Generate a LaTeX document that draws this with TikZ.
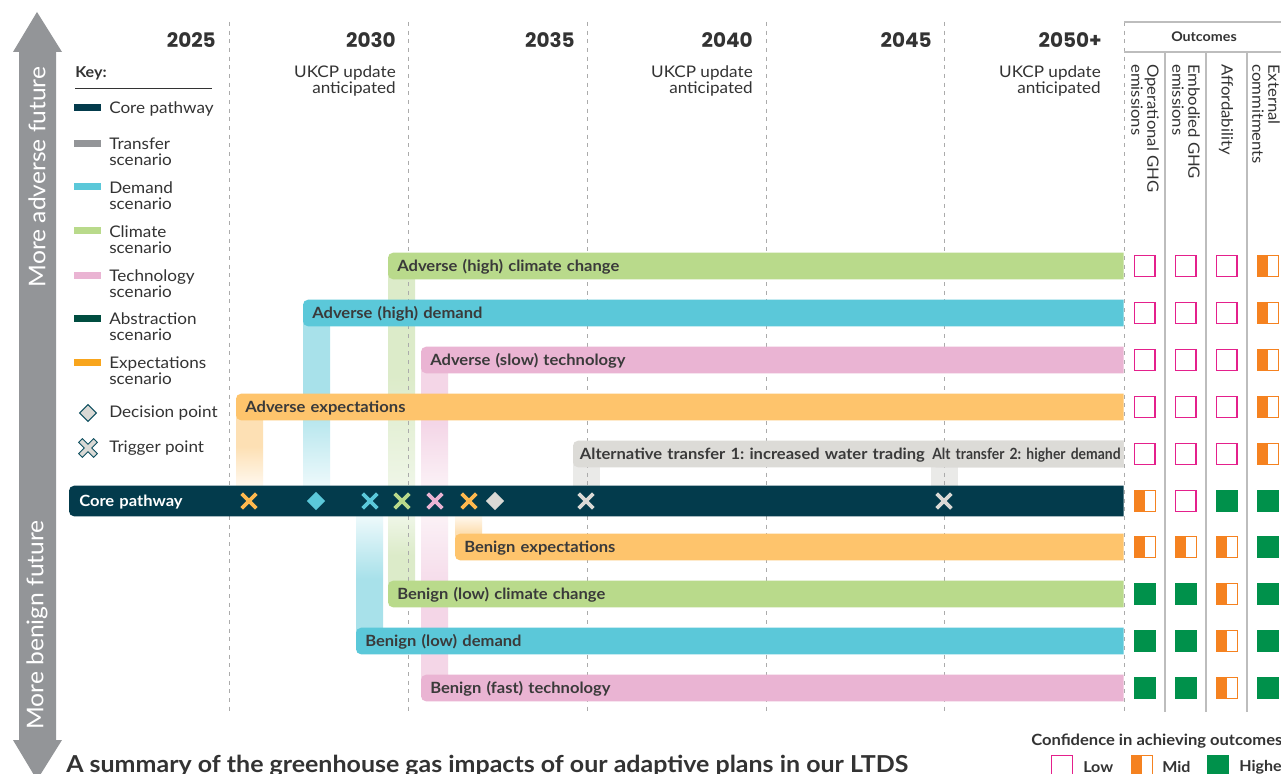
\documentclass[tikz,border=0pt]{standalone}
\usepackage{fontspec}
\setmainfont{Lato}[FakeStretch=1.07]
\newfontfamily\yearfont{Poppins}
\newfontfamily\condfont{Lato}[FakeStretch=0.9]
\usetikzlibrary{shapes.geometric,shapes.misc}
\definecolor{coreblue}{HTML}{033B4C}
\definecolor{trgray}{HTML}{DCDBD7}
\definecolor{keygray}{HTML}{939598}
\definecolor{demc}{HTML}{5BC8D9}
\definecolor{climc}{HTML}{B9DA8B}
\definecolor{techc}{HTML}{EAB4D3}
\definecolor{expc}{HTML}{FEC46C}
\definecolor{expkey}{HTML}{F8A51D}
\definecolor{absc}{HTML}{004D40}
\definecolor{txt}{HTML}{333333}
\definecolor{lbl}{HTML}{3A3A3A}
\definecolor{gridc}{HTML}{ABABAB}
\definecolor{lowc}{HTML}{E4208C}
\definecolor{midc}{HTML}{F58220}
\definecolor{highc}{HTML}{00914B}
\definecolor{arrowc}{HTML}{939598}
\definecolor{xorange}{HTML}{FDB84E}
\definecolor{markgray}{HTML}{DAD9D5}
\definecolor{keyteal}{HTML}{0E4F5F}
\definecolor{sepc}{HTML}{BDBDBD}
\definecolor{expL}{HTML}{FDE0B4}
\definecolor{expF}{HTML}{FFF8EE}
\definecolor{demL}{HTML}{A8E1EA}
\definecolor{demF}{HTML}{EDF9FB}
\definecolor{climL}{HTML}{DCEBC9}
\definecolor{climF}{HTML}{EFF6E7}
\definecolor{techL}{HTML}{F4D6E7}
\definecolor{techF}{HTML}{FBF1F6}
\definecolor{trL}{HTML}{EAEAE8}
\pgfdeclarelayer{conn}\pgfdeclarelayer{grid}\pgfdeclarelayer{bars}
\pgfsetlayers{conn,grid,bars,main}
\newcommand\fs[2]{\fontsize{#1}{#2}\selectfont}
% name, x1, y, style, fill, label, pad(pt)
\newcommand\scbar[7]{%
  \pgfmathsetmacro\barw{(1123-#2)*0.75-2*#7}%
  \node[#4, inner xsep=#7pt, text width=\barw pt] (#1) at (#2,#3) {\mbox{#6}};
  \begin{pgfonlayer}{bars}
    \fill[#5, rounded corners=3.75pt] (#1.north east) -- (#1.north west) -- (#1.south west) -- (#1.south east);
  \end{pgfonlayer}}
\frenchspacing
\begin{document}
\begin{tikzpicture}[x=0.75pt,y=-0.75pt,
  barnode/.style={anchor=west, inner ysep=0pt, minimum height=19.5pt, text height=9.3pt, text depth=1pt, align=left, font=\bfseries\fs{11.6}{13}, text=lbl},
  corenode/.style={barnode, minimum height=22.5pt, text=white},
  gridline/.style={gridc, line width=0.6pt, dash pattern=on 3pt off 3.5pt},
  year/.style={anchor=base east, font=\yearfont\bfseries\fs{15}{18}, text=txt, inner sep=0pt},
  ukcp/.style={anchor=east, align=right, font=\fs{12}{12}, text=txt, inner sep=0pt},
  keytext/.style={anchor=west, align=left, font=\fs{12}{12}, text=txt, inner sep=0pt},
  swatch/.style={rectangle, minimum width=20.25pt, minimum height=5.25pt, inner sep=0pt},
  xm/.style={cross out, draw=#1, line width=2.8pt, minimum size=8.25pt, inner sep=0pt},
  dm/.style={diamond, fill=#1, minimum size=14pt, inner sep=0pt},
  sqL/.style={rectangle, draw=lowc, line width=1.1pt, fill=white, minimum size=15.4pt, inner sep=0pt},
  sqM/.style={rectangle, draw=midc, line width=0.7pt, fill=white, minimum size=15.8pt, inner sep=0pt,
    path picture={\fill[midc] (path picture bounding box.north west) rectangle (path picture bounding box.south);}},
  sqH/.style={rectangle, fill=highc, minimum size=16.5pt, inner sep=0pt},
  colhead/.style={rotate=-90, anchor=west, align=left, font=\fs{11.7}{12}, text=txt, inner sep=0pt},
  legtext/.style={anchor=west, font=\bfseries\fs{11.25}{12}, text=txt, inner sep=0pt},
]
\useasboundingbox (0,0) rectangle (1281,774);

% ---------- left arrow ----------
\fill[arrowc] (37,12) -- (62,52) -- (56,52) -- (56,740) -- (62,740) -- (37,780) -- (13,740) -- (19,740) -- (19,52) -- (13,52) -- cycle;
\node[rotate=90, text=white, font=\fs{17.25}{18}, inner sep=0pt] (adv) at (37,177) {More adverse future};
\node[rotate=90, text=white, font=\fs{17.25}{18}, inner sep=0pt] (ben) at (37,625) {More benign future};

% ---------- grid ----------
\begin{pgfonlayer}{grid}
\foreach \gx in {229,408,587,766,944,1124}{\draw[gridline] (\gx,22) -- (\gx,712);}
\end{pgfonlayer}

\node[year] (y1) at (216,48) {2025};
\node[year] (y2) at (396,48) {2030};
\node[year] (y3) at (575,48) {2035};
\node[year] (y4) at (753,48) {2040};
\node[year] (y5) at (932,48) {2045};
\node[year] (y6) at (1102,48) {2050+};
\node[ukcp] (u1) at (396,81) {UKCP update\\anticipated};
\node[ukcp] (u2) at (753,81) {UKCP update\\anticipated};
\node[ukcp] (u3) at (1101,81) {UKCP update\\anticipated};

% ---------- key ----------
\node[anchor=west, font=\bfseries\fs{11.25}{12}, text=txt, inner sep=0pt] (keyt) at (75,73) {Key:};
\draw[txt, line width=0.75pt] (75,89) -- (212,89);
\node[swatch, fill=coreblue] (k1) at (87.5,107.5) {};
\node[keytext] (k1t) at (109,109) {Core pathway};
\node[swatch, fill=keygray] (k2) at (87.5,143) {};
\node[keytext] (k2t) at (109,152) {Transfer\\scenario};
\node[swatch, fill=demc] (k3) at (87.5,186) {};
\node[keytext] (k3t) at (109,195.5) {Demand\\scenario};
\node[swatch, fill=climc] (k4) at (87.5,230) {};
\node[keytext] (k4t) at (109,239.5) {Climate\\scenario};
\node[swatch, fill=techc] (k5) at (87.5,275) {};
\node[keytext] (k5t) at (109,284) {Technology\\scenario};
\node[swatch, fill=absc] (k6) at (87.5,318) {};
\node[keytext] (k6t) at (109,327) {Abstraction\\scenario};
\node[swatch, fill=expkey] (k7) at (87.5,362) {};
\node[keytext] (k7t) at (109,370.5) {Expectations\\scenario};
\node[diamond, draw=keyteal, fill=markgray, line width=0.8pt, minimum size=13pt, inner sep=0pt] (k8) at (88,413) {};
\node[keytext] (k8t) at (109,413) {Decision point};
\node[inner sep=0pt, minimum size=8pt] (k9) at (88,448) {};
\draw[keyteal, line width=4.6pt, line cap=rect] (k9.north west) -- (k9.south east) (k9.north east) -- (k9.south west);
\draw[markgray, line width=3pt, line cap=rect] (k9.north west) -- (k9.south east) (k9.north east) -- (k9.south west);
\node[keytext] (k9t) at (109,448) {Trigger point};

% ---------- scenario bars ----------
\scbar{advclim}{388}{266}{barnode}{climc}{Adverse (high) climate change}{6.75}
\scbar{advdem}{303}{313}{barnode}{demc}{Adverse (high) demand}{6.75}
\scbar{advtech}{421}{360}{barnode}{techc}{Adverse (slow) technology}{6.75}
\scbar{advexp}{236}{407}{barnode}{expc}{Adverse expectations}{6.75}
\scbar{tra}{573}{454}{barnode}{trgray}{Alternative transfer 1: increased water trading}{5}
\scbar{trb}{931}{454}{barnode}{trgray}{\condfont Alt transfer 2: higher demand}{0.75}
\scbar{core}{69}{501}{corenode}{coreblue}{Core pathway}{7.5}
\scbar{benexp}{455}{547}{barnode}{expc}{Benign expectations}{6.75}
\scbar{benclim}{388}{594}{barnode}{climc}{Benign (low) climate change}{6.75}
\scbar{bendem}{356}{641}{barnode}{demc}{Benign (low) demand}{6.75}
\scbar{bentech}{421}{688}{barnode}{techc}{Benign (fast) technology}{6.75}

% ---------- connectors ----------
\begin{pgfonlayer}{conn}
\fill[white] (0,0) rectangle (1281,774);
\foreach \b in {advclim,advdem,advtech,advexp,tra,trb,benexp,benclim,bendem,bentech}{
  \coordinate (\b-r) at ([xshift=20.25pt]\b.west);}
\shade[top color=expL, bottom color=expF, middle color=expL] (advexp.west) rectangle (advexp-r |- core.north);
\shade[top color=demL, bottom color=demF, middle color=demL] (advdem.west) rectangle (advdem-r |- core.north);
\shade[top color=climL, bottom color=climF, middle color=climL] (advclim.west) rectangle (advclim-r |- core.north);
\shade[top color=techL, bottom color=techF, middle color=techL] (advtech.west) rectangle (advtech-r |- core.north);
\fill[trL] (tra.west) rectangle (tra-r |- core.north);
\fill[trL] (trb.west) rectangle (trb-r |- core.north);
\shade[top color=expF, bottom color=expL, middle color=expL] (benexp.west |- core.south) rectangle (benexp-r);
\shade[top color=climF, bottom color=climL, middle color=climL] (benclim.west |- core.south) rectangle (benclim-r);
\shade[top color=demF, bottom color=demL, middle color=demL] (bendem.west |- core.south) rectangle (bendem-r);
\shade[top color=techF, bottom color=techL, middle color=techL] (bentech.west |- core.south) rectangle (bentech-r);
\end{pgfonlayer}

% ---------- markers on core ----------
\node[xm=xorange] (m1) at (249,501) {};
\node[dm=demc] (m2) at (316,501) {};
\node[xm=demc] (m3) at (370,501) {};
\node[xm=climc] (m4) at (402,501) {};
\node[xm=techc] (m5) at (435,501) {};
\node[xm=xorange] (m6) at (469,501) {};
\node[dm=markgray] (m7) at (495,501) {};
\node[xm=markgray] (m8) at (586,501) {};
\node[xm=markgray] (m9) at (944,501) {};

% ---------- outcomes ----------
\draw[sepc, line width=0.8pt] (1124,22) -- (1281,22);
\draw[sepc, line width=0.8pt] (1124,52) -- (1281,52);
\foreach \sx in {1165,1206,1247}{\draw[sepc, line width=0.9pt] (\sx,52) -- (\sx,712);}
\node[font=\bfseries\fs{10}{12}, text=txt, inner sep=0pt] (outh) at (1204,37) {Outcomes};
\node[colhead] (h1) at (1145,64) {Operational GHG\\emissions};
\node[colhead] (h2) at (1186,64) {Embodied GHG\\emissions};
\node[colhead] (h3) at (1226,64) {Affordability};
\node[colhead] (h4) at (1266,64) {External\\commitments};
\foreach \r/\yy/\a/\b/\c/\d in {1/266/L/L/L/M,2/313/L/L/L/M,3/360/L/L/L/M,4/407/L/L/L/M,5/454/L/L/L/M,
  6/501/M/L/H/H,7/547/M/M/M/H,8/594/H/H/M/H,9/641/H/H/M/H,10/688/H/H/M/H}{
  \node[sq\a] (o\r-1) at (1144.5,\yy) {};
  \node[sq\b] (o\r-2) at (1185.5,\yy) {};
  \node[sq\c] (o\r-3) at (1226.5,\yy) {};
  \node[sq\d] (o\r-4) at (1268,\yy) {};
}

% ---------- confidence legend ----------
\node[legtext, font=\bfseries\fs{11.6}{12}] (conf) at (1031,741) {Confidence in achieving outcomes};
\node[sqL] (lgL) at (1062,766) {};
\node[legtext] (lgLt) at (1083,767) {Low};
\node[sqM] (lgM) at (1142,766) {};
\node[legtext] (lgMt) at (1162,767) {Mid};
\node[sqH] (lgH) at (1217.5,766) {};
\node[legtext] (lgHt) at (1239,767) {Higher};

% ---------- caption ----------
\node[anchor=base west, font=\bfseries\fs{17.5}{20}, text=txt, inner sep=0pt] (cap) at (66,772) {A summary of the greenhouse gas impacts of our adaptive plans in our LTDS};
\end{tikzpicture}
\end{document}
